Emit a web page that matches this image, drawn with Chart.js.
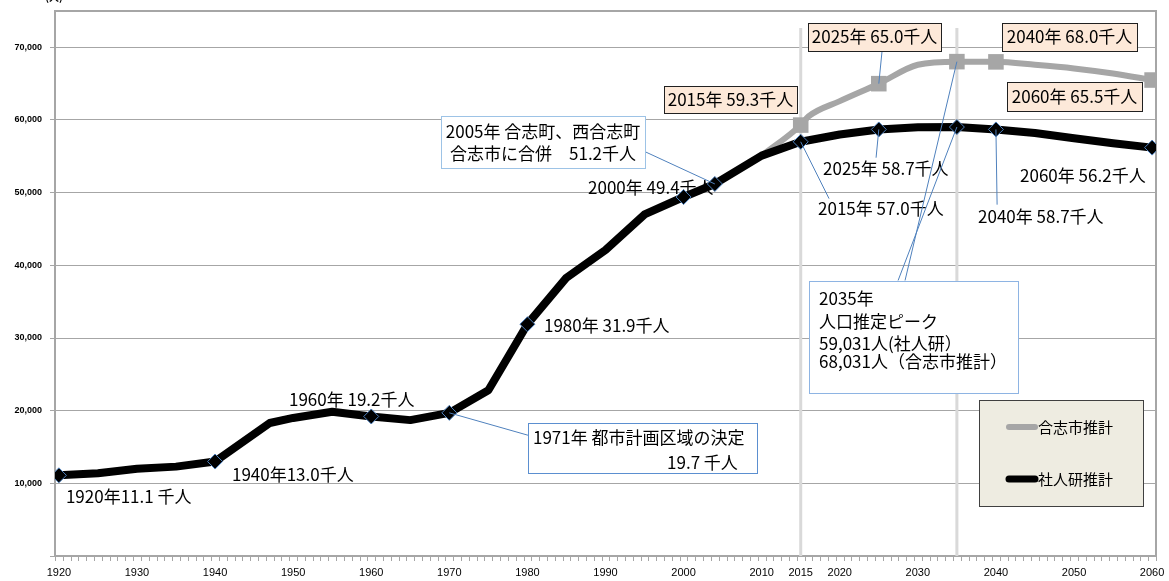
<!DOCTYPE html>
<html><head><meta charset="utf-8">
<script src="https://cdn.jsdelivr.net/npm/chart.js@4.4.1/dist/chart.umd.min.js"></script>
<style>html,body{margin:0;padding:0;background:#fff;overflow:hidden}#wrap{width:1169px;height:581px;position:relative}</style>
</head><body><div id="wrap"><canvas id="c" width="1169" height="581"></canvas></div>
<script>
// ---- data ----
const seriesNames = ['合志市推計', '社人研推計'];
const shaYears  = [1920,1925,1930,1935,1940,1947,1950,1955,1960,1965,1970,1975,1980,1985,1990,1995,2000,2004,2010,2015,2020,2025,2030,2035,2040,2045,2050,2055,2060];
const shaValues = [11100,11400,12000,12300,13000,18300,19000,19850,19200,18700,19700,22800,31900,38300,42100,47000,49400,51200,55100,57000,58000,58700,59000,59031,58700,58200,57500,56800,56200];
const shaMarkerYears = [1920,1940,1960,1970,1980,2000,2004,2015,2025,2035,2040,2060];
const koshiYears  = [2010,2015,2016,2020,2025,2030,2035,2040,2045,2050,2055,2060];
const koshiValues = [55100,59300,60500,62600,65000,67600,68031,68000,67600,67100,66400,65500];
const koshiMarkerYears = [2015,2025,2035,2040,2060];
const xTickYears = [1920,1930,1940,1950,1960,1970,1980,1990,2000,2010,2015,2020,2030,2040,2050,2060];
const yTickValues = [0,10000,20000,30000,40000,50000,60000,70000];
const peakYears = [2015, 2035];

// ---- annotations (positions in data units) ----
const FONT = '17px "Noto Sans CJK JP", "Noto Sans", sans-serif';
const plainNotes = [
  {t:'1920年11.1 千人', x:1920.9, y:8240},
  {t:'1940年13.0千人', x:1942.16, y:11260},
  {t:'1960年 19.2千人', x:1949.46, y:21570},
  {t:'1980年 31.9千人', x:1982.12, y:31730},
  {t:'2000年 49.4千人', x:1987.76, y:50690},
  {t:'2015年 57.0千人', x:2017.22, y:47800, lead:{s:0, yr:2015, x:2018.63, y:49180}},
  {t:'2025年 58.7千人', x:2017.86, y:53300, lead:{s:0, yr:2025, x:2024.65, y:54810}},
  {t:'2040年 58.7千人', x:2037.71, y:46700, lead:{s:0, yr:2040, x:2040.15, y:48350}},
  {t:'2060年 56.2千人', x:2043.09, y:52335}
];
const boxNotes = [
  {box:[1968.93,60577,1995.06,53434], fill:'#ffffff', stroke:'#9dc3e6',
   lines:[{t:'2005年 合志町、西合志町', x:1982.0, y:58379, a:'center'},{t:'合志市に合併　51.2千人', x:1982.0, y:55357, a:'center'}],
   leads:[{x:1994.8, y:55770, s:0, yr:2004}]},
  {box:[1980.07,18269,2009.41,11401], fill:'#ffffff', stroke:'#5b8fd0',
   lines:[{t:'1971年 都市計画区域の決定', x:1980.71, y:16346, a:'left'},{t:'19.7 千人', x:1997.88, y:12912, a:'left'}],
   leads:[{x:1980.07, y:16621, s:0, yr:1970}]},
  {box:[1997.49,64698,2014.53,60989], fill:'#fde9d9', stroke:'#202020',
   lines:[{t:'2015年 59.3千人', x:2006.01, y:62843, a:'center'}], leads:[]},
  {box:[2015.94,73352,2032.98,69505], fill:'#fde9d9', stroke:'#202020',
   lines:[{t:'2025年 65.0千人', x:2024.46, y:71430, a:'center'}],
   leads:[{x:2025.42, y:69505, s:1, yr:2025}]},
  {box:[2040.79,73352,2058.08,69505], fill:'#fde9d9', stroke:'#202020',
   lines:[{t:'2040年 68.0千人', x:2049.43, y:71430, a:'center'}], leads:[]},
  {box:[2041.43,65247,2058.72,61264], fill:'#fde9d9', stroke:'#202020',
   lines:[{t:'2060年 65.5千人', x:2050.07, y:63255, a:'center'}], leads:[]},
  {box:[2016.07,37912,2042.84,22390], fill:'#ffffff', stroke:'#8eb4e3',
   lines:[{t:'2035年', x:2017.35, y:35440, a:'left'},{t:'人口推定ピーク', x:2017.35, y:32280, a:'left'},
          {t:'59,031人(社人研）', x:2017.35, y:29258, a:'left'},{t:'68,031人（合志市推計）', x:2017.35, y:26786, a:'left'}],
   leads:[{x:2028.36, y:37912, s:1, yr:2035},{x:2027.47, y:37912, s:0, yr:2035}]}
];

const seriesData = [
  {years:shaYears, values:shaValues},
  {years:koshiYears, values:koshiValues}
];
// s:0 -> 社人研 (black), s:1 -> 合志市 (gray)
function valueAt(s, yr){ const d = seriesData[s]; return d.values[d.years.indexOf(yr)]; }

const notesPlugin = {
  id:'notes',
  beforeDatasetsDraw(chart){
    const ctx = chart.ctx, xs = chart.scales.x, ys = chart.scales.y, a = chart.chartArea;
    ctx.save();
    ctx.strokeStyle = '#d9d9d9'; ctx.lineWidth = 3;
    peakYears.forEach(yr => {
      const px = xs.getPixelForValue(yr);
      ctx.beginPath(); ctx.moveTo(px, ys.getPixelForValue(72660)); ctx.lineTo(px, a.bottom); ctx.stroke();
    });
    ctx.strokeStyle = '#a6a6a6'; ctx.lineWidth = 2;
    ctx.beginPath(); ctx.moveTo(a.left, a.top); ctx.lineTo(a.right, a.top); ctx.lineTo(a.right, a.bottom); ctx.stroke();
    ctx.lineWidth = 1; ctx.strokeStyle = '#a6a6a6';
    for (let yr = 1919.5; yr <= 2060.6; yr += 1) {
      const px = Math.round(xs.getPixelForValue(yr)) + 0.5;
      ctx.beginPath(); ctx.moveTo(px, a.bottom); ctx.lineTo(px, a.bottom + 5); ctx.stroke();
    }
    ctx.fillStyle = '#000'; ctx.font = 'bold 10px "Noto Sans CJK JP"'; ctx.textAlign = 'center'; ctx.textBaseline = 'alphabetic';
    ctx.fillText('(人)', 54, 1);
    ctx.font = FONT; ctx.textAlign = 'left'; ctx.textBaseline = 'middle'; ctx.fillStyle = '#000';
    plainNotes.forEach(n => {
      ctx.fillText(n.t, xs.getPixelForValue(n.x), ys.getPixelForValue(n.y));
    });
    ctx.restore();
  },
  afterDatasetsDraw(chart){
    const ctx = chart.ctx, xs = chart.scales.x, ys = chart.scales.y;
    const X = v => xs.getPixelForValue(v), Y = v => ys.getPixelForValue(v);
    ctx.save();
    ctx.strokeStyle = '#4f81bd'; ctx.lineWidth = 1;
    plainNotes.forEach(n => {
      if (!n.lead) return;
      const l = n.lead;
      ctx.beginPath(); ctx.moveTo(X(l.yr), Y(valueAt(l.s, l.yr))); ctx.lineTo(X(l.x), Y(l.y)); ctx.stroke();
    });
    boxNotes.forEach(b => {
      b.leads.forEach(l => {
        ctx.beginPath(); ctx.moveTo(X(l.x), Y(l.y)); ctx.lineTo(X(l.yr), Y(valueAt(l.s, l.yr))); ctx.stroke();
      });
    });
    boxNotes.forEach(b => {
      const x1 = Math.round(X(b.box[0]))+0.5, y1 = Math.round(Y(b.box[1]))+0.5, x2 = Math.round(X(b.box[2]))+0.5, y2 = Math.round(Y(b.box[3]))+0.5;
      ctx.fillStyle = b.fill; ctx.fillRect(x1, y1, x2-x1, y2-y1);
      ctx.strokeStyle = b.stroke; ctx.lineWidth = 1; ctx.strokeRect(x1, y1, x2-x1, y2-y1);
      ctx.fillStyle = '#000'; ctx.font = FONT; ctx.textBaseline = 'middle';
      b.lines.forEach(l => { ctx.textAlign = l.a; ctx.fillText(l.t, X(l.x), Y(l.y)); });
    });
    // legend
    const lx = 979, ly = 400, lw = 164, lh = 106;
    ctx.fillStyle = '#eeece1'; ctx.fillRect(lx+0.5, ly+0.5, lw, lh);
    ctx.strokeStyle = '#404040'; ctx.lineWidth = 1; ctx.strokeRect(lx+0.5, ly+0.5, lw, lh);
    ctx.lineCap = 'round';
    ctx.strokeStyle = '#a6a6a6'; ctx.lineWidth = 6;
    ctx.beginPath(); ctx.moveTo(1009, 427); ctx.lineTo(1035, 427); ctx.stroke();
    ctx.strokeStyle = '#000'; ctx.lineWidth = 7;
    ctx.beginPath(); ctx.moveTo(1009, 479); ctx.lineTo(1035, 479); ctx.stroke();
    ctx.fillStyle = '#000'; ctx.font = '15px "Noto Sans CJK JP"'; ctx.textAlign = 'left'; ctx.textBaseline = 'middle';
    ctx.fillText(seriesNames[0], 1038, 427);
    ctx.fillText(seriesNames[1], 1038, 479);
    ctx.restore();
  }
};

new Chart(document.getElementById('c'), {
  type:'line',
  data:{
    datasets:[
      {
        label:seriesNames[1],
        data:shaYears.map((x,i)=>({x, y:shaValues[i]})),
        borderColor:'#000', borderWidth:8, tension:0,
        borderJoinStyle:'round', borderCapStyle:'round',
        pointStyle:'rectRot',
        pointRadius:c => shaMarkerYears.includes(c.raw.x) ? 7.5 : 0,
        pointBackgroundColor:'#000', pointBorderColor:'#4f81bd', pointBorderWidth:1,
        order:0
      },
      {
        label:seriesNames[0],
        data:koshiYears.map((x,i)=>({x, y:koshiValues[i]})),
        borderColor:'#a6a6a6', borderWidth:6, cubicInterpolationMode:'monotone',
        borderJoinStyle:'round', borderCapStyle:'round',
        pointStyle:'rect',
        pointRadius:c => koshiMarkerYears.includes(c.raw.x) ? 11 : 0,
        pointBackgroundColor:'#a6a6a6', pointBorderColor:'#a6a6a6', pointBorderWidth:0,
        order:1
      }
    ]
  },
  options:{
    responsive:false, devicePixelRatio:1, animation:false,
    events:[],
    layout:{padding:{top:10, right:13, left:0, bottom:0}},
    plugins:{legend:{display:false}, tooltip:{enabled:false}},
    scales:{
      x:{
        type:'linear', min:1919.5, max:2060.5,
        afterBuildTicks:s => { s.ticks = xTickYears.map(v => ({value:v})); },
        afterFit:s => { s.height = 25; s.paddingLeft = 0; s.paddingRight = 0; },
        ticks:{autoSkip:false, maxRotation:0, color:'#000', padding:10,
               font:{size:11, family:'Liberation Sans'}, callback:v => String(v)},
        grid:{display:false, drawTicks:false},
        border:{display:true, color:'#a6a6a6', width:2}
      },
      y:{
        type:'linear', min:0, max:75000,
        afterBuildTicks:s => { s.ticks = yTickValues.map(v => ({value:v})); },
        afterFit:s => { s.width = 55; s.paddingTop = 0; s.paddingBottom = 0; },
        ticks:{color:'#000', padding:8, font:{size:9, weight:'bold', family:'Liberation Sans'},
               callback:v => v === 0 ? '' : v.toLocaleString('en-US')},
        grid:{color:c => c.tick && c.tick.value === 0 ? 'rgba(0,0,0,0)' : '#a6a6a6', lineWidth:1, tickLength:5, drawTicks:true, tickColor:'#a6a6a6'},
        border:{color:'#a6a6a6', width:2}
      }
    }
  },
  plugins:[notesPlugin]
});
</script></body></html>
